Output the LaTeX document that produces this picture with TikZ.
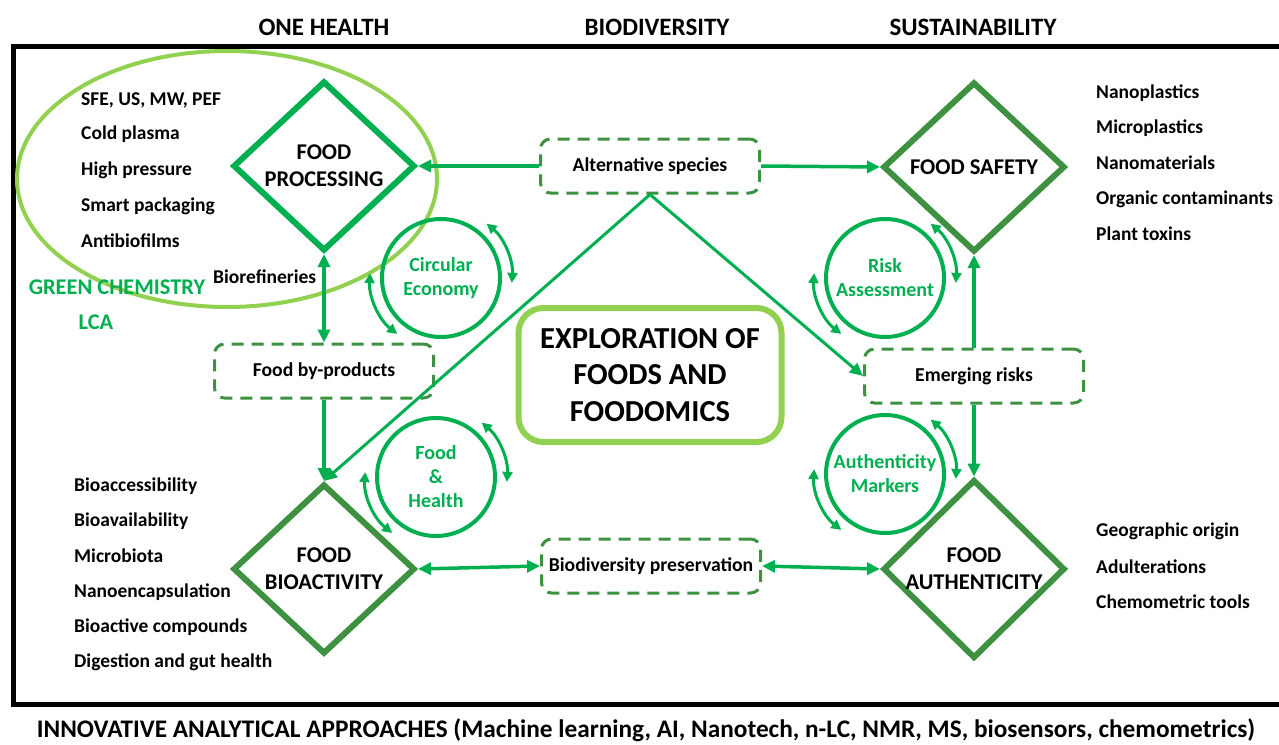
\documentclass[tikz,border=0pt]{standalone}
\usepackage{fontspec}
\setmainfont{Carlito}
\usepackage{tikz}
\usetikzlibrary{shapes,arrows.meta}
\usetikzlibrary{positioning}
\usetikzlibrary{calc}
\definecolor{brightgreen}{RGB}{0,176,80}
\definecolor{darkgreen}{RGB}{61,145,64}
\definecolor{lightgreen}{RGB}{146,208,80}
\newcommand\myfont[2]{\fontsize{#1}{#2}\selectfont\bfseries}
\newcommand\myitem[4][]{%
  \node[listitem,#1] (#2) at (#3) {#4};
}
\newcommand\mycycle[3]{%
  \node[ringnode] (#1) at (#2) {#3};
  \draw[cyclearrow] (#1.center) ++(50:71pt) arc[start angle=50, end angle=-4, radius=71pt];
  \draw[cyclearrow] (#1.center) ++(176:71pt) arc[start angle=176, end angle=232, radius=71pt];
}

\begin{document}
\begin{tikzpicture}[
x=1pt, y=-1pt,
>={Triangle[length=13pt,width=12pt]},
diam/.style={
  diamond,
  draw=brightgreen,
  line width=6pt,
  minimum width=182pt,
  minimum height=170pt,
  inner sep=0pt,
  align=center,
  font=\myfont{22.5}{27}},
diamdark/.style={diam, draw=darkgreen},
dashbox/.style={
  draw=darkgreen,
  line width=3pt,
  dash pattern=on 12pt off 8pt,
  rounded corners=10pt,
  minimum width=219pt,
  minimum height=54pt,
  font=\myfont{19.7}{22}},
ringnode/.style={
  circle,
  draw=brightgreen,
  line width=4pt,
  minimum size=118pt,
  inner sep=0pt,
  text=brightgreen,
  align=center,
  font=\myfont{20}{24}},
cyclearrow/.style={<->, draw=brightgreen, line width=3pt, >={Triangle[length=10pt,width=10pt]}},
link/.style={draw=brightgreen, line width=3.5pt},
thinlink/.style={draw=brightgreen, line width=3pt},
listitem/.style={anchor=west, inner sep=0pt, font=\myfont{19.5}{22}},
greenitem/.style={inner sep=0pt, text=brightgreen, font=\myfont{22.4}{24}},
header/.style={inner sep=0pt, font=\myfont{25}{27}},
mainbox/.style={
  draw=lightgreen,
  line width=6pt,
  rounded corners=25pt,
  minimum width=263pt,
  minimum height=134pt,
  align=center,
  font=\myfont{30.5}{36.5}}
]
\useasboundingbox (0,0) rectangle (1279,744);

% frame and green chemistry ellipse
\draw[line width=5pt] (13,46) rectangle (1300,704);
\draw[lightgreen, line width=4pt] (227,179) ellipse [x radius=210, y radius=128];

% headers
\node[header] (onehealth) at (324,27) {ONE HEALTH};
\node[header] (biodivhead) at (657,27) {BIODIVERSITY};
\node[header] (sustain) at (973,27) {SUSTAINABILITY};
\node[header, anchor=base, font=\myfont{25.3}{27}] (innov) at (646,737) {INNOVATIVE ANALYTICAL APPROACHES (Machine learning, AI, Nanotech, n-LC, NMR, MS, biosensors, chemometrics)};

% the four fields
\node[diam] (proc) at (324,166) {FOOD\\PROCESSING};
\node[diamdark] (safe) at (974,167) {FOOD SAFETY};
\node[diamdark] (bioact) at (324,569) {FOOD\\BIOACTIVITY};
\node[diamdark] (auth) at (974,569) {FOOD\\AUTHENTICITY};

\node[mainbox] (explo) at (650,375) {EXPLORATION OF\\FOODS AND\\FOODOMICS};

\node[dashbox] (alt) at (650,166) {Alternative species};
\node[dashbox] (byprod) at (324,371) {Food by-products};
\node[dashbox] (emerg) at (974,376) {Emerging risks};
\node[dashbox] (biodiv) at (651,566) {Biodiversity preservation};

\mycycle{circ}{441,278}{Circular\\Economy}
\mycycle{risk}{885,278}{Risk\\Assessment}
\mycycle{health}{436,477}{Food\\\&\\Health}
\mycycle{markers}{885,474}{Authenticity\\Markers}

% connectors
\draw[link,->] (alt.west) -- (proc.east);
\draw[link,->] (alt.east) -- (safe.west);
\draw[thinlink,->] (alt.south) -- (bioact.north);
\draw[thinlink,->] (alt.south) -- (emerg.west);
\draw[link,<->] (proc.south) -- (byprod.north);
\draw[link,->] (byprod.south) -- (bioact.north);
\draw[link,->] (emerg.north) -- (safe.south);
\draw[link,->] (emerg.south) -- (auth.north);
\draw[link,<->] (bioact.east) -- (biodiv.west);
\draw[link,<->] (biodiv.east) -- (auth.west);

% lists
\myitem{sfe}{81,100}{SFE, US, MW, PEF}
\myitem{plasma}{81,134}{Cold plasma}
\myitem{pressure}{81,170}{High pressure}
\myitem{packaging}{81,206}{Smart packaging}
\myitem{antibio}{81,241}{Antibiofilms}
\myitem{biorefin}{213,277}{Biorefineries}
\node[greenitem] (greenchem) at (117,287) {GREEN CHEMISTRY};
\node[greenitem] (lca) at (96,322) {LCA};

\myitem{access}{74,486}{Bioaccessibility}
\myitem{avail}{74,521}{Bioavailability}
\myitem{microbiota}{74,556}{Microbiota}
\myitem{nanoenc}{74,592}{Nanoencapsulation}
\myitem{compounds}{74,627}{Bioactive compounds}
\myitem{digestion}{74,662}{Digestion and gut health}

\myitem{nanopl}{1096,93}{Nanoplastics}
\myitem{micropl}{1096,128}{Microplastics}
\myitem{nanomat}{1096,163}{Nanomaterials}
\myitem{organic}{1096,199}{Organic contaminants}
\myitem{toxins}{1096,234}{Plant toxins}

\myitem{origin}{1096,531}{Geographic origin}
\myitem{adulter}{1096,567}{Adulterations}
\myitem{chemo}{1096,602}{Chemometric tools}
\end{tikzpicture}
\end{document}
